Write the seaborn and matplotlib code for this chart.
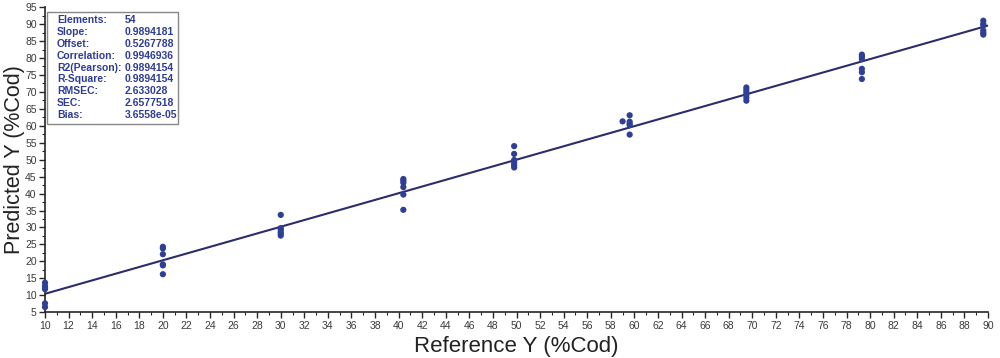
import numpy as np
import pandas as pd
import matplotlib
matplotlib.use("Agg")
import matplotlib.pyplot as plt
from matplotlib.ticker import MultipleLocator
from matplotlib.patches import Rectangle
import seaborn as sns

# reference values (x) and predicted values (y), 6 samples per level
ref_y = [10, 10, 10, 10, 10, 10,
         20, 20, 20, 20, 20, 20,
         30, 30, 30, 30, 30, 30,
         40.4, 40.4, 40.4, 40.4, 40.4, 40.4,
         49.8, 49.8, 49.8, 49.8, 49.8, 49.8,
         59.0, 59.6, 59.6, 59.6, 59.6, 59.6,
         69.5, 69.5, 69.5, 69.5, 69.5, 69.5,
         79.3, 79.3, 79.3, 79.3, 79.3, 79.3,
         89.6, 89.6, 89.6, 89.6, 89.6, 89.6]
pred_y = [13.7, 12.7, 12.2, 11.8, 7.6, 6.5,
          24.3, 23.8, 22.1, 19.1, 18.8, 16.2,
          33.7, 29.8, 29.3, 28.6, 28.1, 27.6,
          44.3, 43.8, 43.2, 41.9, 39.7, 35.2,
          54.0, 51.7, 49.9, 49.1, 48.4, 47.7,
          61.3, 63.1, 61.2, 60.6, 60.2, 57.4,
          71.3, 70.6, 69.9, 69.2, 68.3, 67.4,
          81.0, 80.4, 79.7, 76.8, 75.8, 73.8,
          91.0, 90.1, 89.6, 88.1, 87.4, 86.9]

stat_names = ["Elements:", "Slope:", "Offset:", "Correlation:", "R2(Pearson):",
              "R-Square:", "RMSEC:", "SEC:", "Bias:"]
stat_values = ["54", "0.9894181", "0.5267788", "0.9946936", "0.9894154",
               "0.9894154", "2.633028", "2.6577518", "3.6558e-05"]

slope = 0.9894181
offset = 0.5267788
fit_x = [10, 90]

sns.set_style("ticks")
plt.rcParams['font.family'] = ['Liberation Sans', 'DejaVu Sans']

df = pd.DataFrame({"ref": ref_y, "pred": pred_y})
fit = pd.DataFrame({"x": fit_x, "y": [slope * v + offset for v in fit_x]})

fig = plt.figure(figsize=(10, 3.58), dpi=100)
ax = fig.add_axes([0.045, 0.128, 0.943, 0.852])

sns.lineplot(data=fit, x="x", y="y", ax=ax, color="#2b2d6b", linewidth=1.5, zorder=2)
sns.scatterplot(data=df, x="ref", y="pred", ax=ax, color="#2e3f96", s=20,
                edgecolor="none", zorder=3, clip_on=False)

ax.set_xlim(10, 90)
ax.set_ylim(5, 95)
ax.xaxis.set_major_locator(MultipleLocator(2))
ax.xaxis.set_minor_locator(MultipleLocator(1))
ax.yaxis.set_major_locator(MultipleLocator(5))
ax.yaxis.set_minor_locator(MultipleLocator(2.5))
ax.tick_params(which="major", length=4, width=1, labelsize=7.5, labelcolor="#3a3a3a", pad=2)
ax.tick_params(which="minor", length=2, width=0.8)
for s in ["top", "right"]:
    ax.spines[s].set_visible(False)
for s in ["left", "bottom"]:
    ax.spines[s].set_linewidth(1.2)

ax.set_xlabel("Reference Y (%Cod)", fontsize=16, color="#222222", labelpad=4)
ax.set_ylabel("Predicted Y (%Cod)", fontsize=15.5, color="#222222")
ax.yaxis.set_label_coords(-0.021, 0.5)

# statistics box
ax.add_patch(Rectangle((0.002, 0.616), 0.139, 0.368, transform=ax.transAxes,
                       facecolor="white", edgecolor="#888888", linewidth=1, zorder=4))
row_top = 0.958
row_step = 0.039
for i, (name, val) in enumerate(zip(stat_names, stat_values)):
    yy = row_top - i * row_step
    ax.text(0.0127, yy, name, transform=ax.transAxes, fontsize=7.5, fontweight="bold",
            color="#2e3c96", va="center", ha="left", zorder=5)
    ax.text(0.0848, yy, val, transform=ax.transAxes, fontsize=7.5, fontweight="bold",
            color="#2e3c96", va="center", ha="left", zorder=5)

fig.savefig("out.png", dpi=100)
